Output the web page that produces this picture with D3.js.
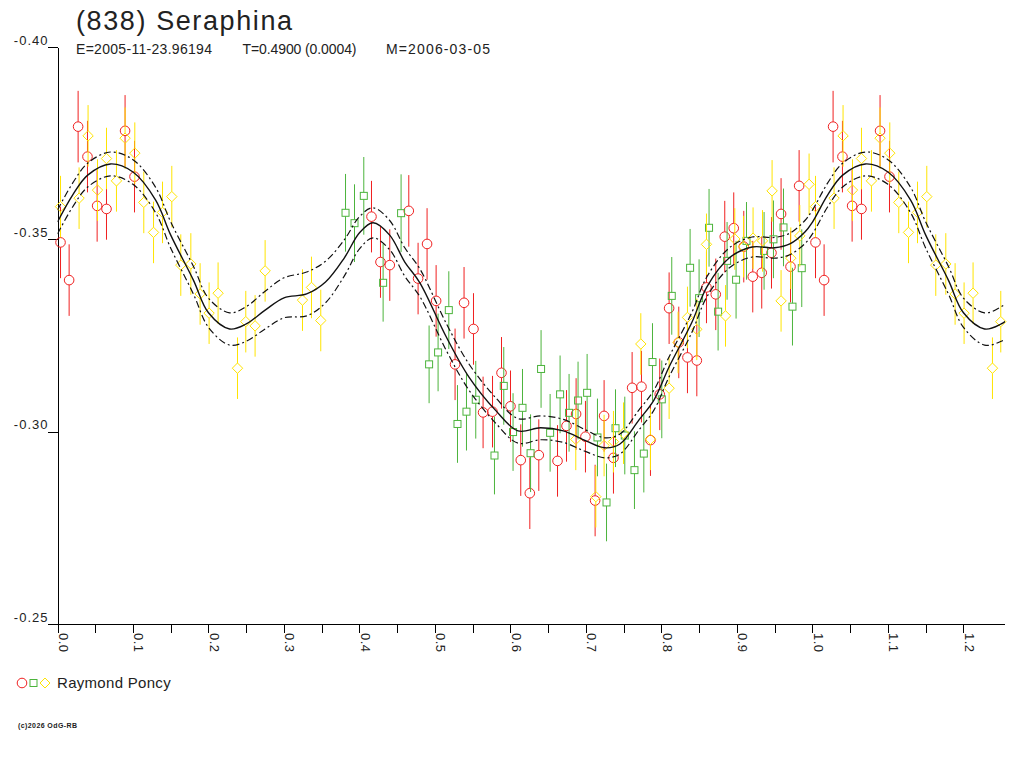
<!DOCTYPE html>
<html>
<head>
<meta charset="utf-8">
<title>(838) Seraphina</title>
<script src="https://d3js.org/d3.v7.min.js"></script>
<style>
  body { margin: 0; background: #fff; }
  text { font-family: "Liberation Sans", Arial, sans-serif; fill: #222; }
</style>
</head>
<body>
<script>
// observer series: [phase, magnitude, error]
var redObs = [
  [0.0040,-0.3492,0.0093],[0.0154,-0.3394,0.0093],[0.0273,-0.3793,0.0093],[0.0397,-0.3715,0.0093],
  [0.0525,-0.3587,0.0093],[0.0649,-0.3579,0.0080],[0.0895,-0.3782,0.0093],[0.1020,-0.3663,0.0093],
  [0.4159,-0.3559,0.0093],[0.4278,-0.3441,0.0093],[0.4401,-0.3433,0.0093],[0.4653,-0.3574,0.0093],
  [0.4776,-0.3398,0.0093],[0.4895,-0.3488,0.0093],[0.5015,-0.3340,0.0093],[0.5266,-0.3175,0.0093],
  [0.5385,-0.3335,0.0093],[0.5510,-0.3267,0.0093],[0.5637,-0.3050,0.0093],[0.5762,-0.3052,0.0093],
  [0.5881,-0.3153,0.0093],[0.6000,-0.3066,0.0093],[0.6136,-0.2926,0.0093],[0.6256,-0.2840,0.0093],
  [0.6375,-0.2939,0.0093],[0.6623,-0.2924,0.0093],[0.6742,-0.3015,0.0093],[0.6869,-0.3046,0.0093],
  [0.6993,-0.2987,0.0093],[0.7121,-0.2821,0.0093],[0.7240,-0.3041,0.0093],[0.7364,-0.2932,0.0093],
  [0.7611,-0.3114,0.0093],[0.7735,-0.3117,0.0093],[0.7854,-0.2978,0.0093],[0.7977,-0.3097,0.0093],
  [0.8101,-0.3321,0.0093],[0.8229,-0.3232,0.0093],[0.8344,-0.3193,0.0093],[0.8468,-0.3185,0.0093],
  [0.8596,-0.3375,0.0093],[0.8719,-0.3357,0.0093],[0.8838,-0.3507,0.0093],[0.8957,-0.3529,0.0093],
  [0.9090,-0.3481,0.0093],[0.9209,-0.3403,0.0093],[0.9328,-0.3413,0.0093],[0.9457,-0.3465,0.0093],
  [0.9584,-0.3566,0.0093],[0.9709,-0.3429,0.0093],[0.9823,-0.3639,0.0093]
];
var greenObs = [
  [0.3815,-0.3569,0.0101],[0.3934,-0.3542,0.0101],[0.4057,-0.3613,0.0101],[0.4313,-0.3387,0.0101],
  [0.4551,-0.3568,0.0101],[0.4922,-0.3175,0.0101],[0.5041,-0.3206,0.0101],[0.5183,-0.3316,0.0101],
  [0.5298,-0.3020,0.0101],[0.5417,-0.3052,0.0101],[0.5540,-0.3083,0.0101],[0.5788,-0.2938,0.0101],
  [0.5911,-0.3119,0.0101],[0.6034,-0.2999,0.0101],[0.6159,-0.3062,0.0101],[0.6266,-0.2944,0.0101],
  [0.6405,-0.3163,0.0101],[0.6525,-0.2997,0.0101],[0.6657,-0.3097,0.0101],[0.6776,-0.3049,0.0101],
  [0.6895,-0.3081,0.0101],[0.7015,-0.3101,0.0101],[0.7152,-0.2985,0.0101],[0.7272,-0.2816,0.0101],
  [0.7391,-0.3009,0.0101],[0.7514,-0.2990,0.0101],[0.7642,-0.2900,0.0101],[0.7766,-0.2943,0.0101],
  [0.7881,-0.3181,0.0101],[0.8004,-0.3084,0.0101],[0.8136,-0.3353,0.0101],[0.8379,-0.3426,0.0101],
  [0.8498,-0.3347,0.0101],[0.8630,-0.3530,0.0101],[0.8750,-0.3312,0.0101],[0.8869,-0.3444,0.0101],
  [0.8988,-0.3395,0.0101],[0.9126,-0.3496,0.0101],[0.9359,-0.3470,0.0101],[0.9483,-0.3500,0.0101],
  [0.9616,-0.3531,0.0101],[0.9735,-0.3325,0.0101],[0.9858,-0.3425,0.0101]
];
var yellowObs = [
  [0.0040,-0.3585,0.0080],[0.0286,-0.3607,0.0080],[0.0405,-0.3769,0.0080],[0.0530,-0.3628,0.0080],
  [0.0649,-0.3710,0.0080],[0.0781,-0.3652,0.0080],[0.0895,-0.3763,0.0080],[0.1024,-0.3724,0.0080],
  [0.1143,-0.3596,0.0080],[0.1272,-0.3518,0.0080],[0.1391,-0.3570,0.0080],[0.1514,-0.3611,0.0080],
  [0.1633,-0.3433,0.0080],[0.1766,-0.3436,0.0080],[0.1889,-0.3358,0.0080],[0.2008,-0.3308,0.0080],
  [0.2127,-0.3360,0.0080],[0.2384,-0.3165,0.0080],[0.2494,-0.3286,0.0080],[0.2617,-0.3275,0.0080],
  [0.2750,-0.3418,0.0080],[0.3245,-0.3342,0.0080],[0.3364,-0.3375,0.0080],[0.3487,-0.3289,0.0080],
  [0.6865,-0.2980,0.0080],[0.7130,-0.2831,0.0080],[0.7240,-0.2964,0.0080],[0.7364,-0.2974,0.0080],
  [0.7497,-0.2996,0.0080],[0.7726,-0.3228,0.0080],[0.7854,-0.2980,0.0080],[0.8101,-0.3113,0.0080],
  [0.8220,-0.3232,0.0080],[0.8344,-0.3297,0.0080],[0.8468,-0.3266,0.0080],[0.8596,-0.3487,0.0080],
  [0.8848,-0.3301,0.0080],[0.8971,-0.3501,0.0080],[0.9086,-0.3481,0.0080],[0.9213,-0.3503,0.0080],
  [0.9338,-0.3496,0.0080],[0.9465,-0.3626,0.0080],[0.9584,-0.3340,0.0080],[0.9713,-0.3451,0.0080],
  [0.9832,-0.3509,0.0080],[0.9955,-0.3643,0.0080]
];

// fitted light curve: phase, magnitude, 1-sigma half width
var fitPhase = [0.000,0.020,0.040,0.070,0.100,0.130,0.150,0.180,0.200,0.228,0.250,0.275,0.300,0.330,
                0.355,0.380,0.400,0.418,0.440,0.460,0.480,0.515,0.545,0.580,0.610,0.640,0.670,0.700,
                0.725,0.745,0.770,0.790,0.810,0.840,0.860,0.890,0.920,0.950,0.970,0.990,1.000];
var fitMag   = [-0.3545,-0.3615,-0.3667,-0.3696,-0.3675,-0.3602,-0.3511,-0.3394,-0.3309,-0.3267,-0.3280,
                -0.3316,-0.3348,-0.3358,-0.3389,-0.3452,-0.3517,-0.3543,-0.3511,-0.3441,-0.3387,-0.3246,
                -0.3142,-0.3056,-0.3002,-0.3010,-0.3002,-0.2976,-0.2958,-0.2968,-0.3030,-0.3082,-0.3168,
                -0.3283,-0.3376,-0.3452,-0.3480,-0.3478,-0.3488,-0.3519,-0.3545];
var fitSig   = [0.0031,0.0031,0.0031,0.0031,0.0032,0.0033,0.0034,0.0036,0.0038,0.0042,0.0045,0.0049,0.0052,
                0.0057,0.0054,0.0047,0.0042,0.0039,0.0038,0.0037,0.0036,0.0035,0.0034,0.0033,0.0032,0.0031,
                0.0030,0.0028,0.0026,0.0026,0.0026,0.0026,0.0026,0.0026,0.0026,0.0026,0.0026,0.0027,0.0028,
                0.0030,0.0031];

var yTicks = [-0.40, -0.35, -0.30, -0.25];
var title = "(838) Seraphina";
var infoParts = ["E=2005-11-23.96194", "T=0.4900 (0.0004)", "M=2006-03-05"];
var observer = "Raymond Poncy";
var maxPhase = 1.255;

var size = {width: 1024, height: 768};
var plot = {left: 57.5, right: 1005, top: 47, bottom: 624};
var colors = {red: "#f02020", green: "#4cb43c", yellow: "#ffe400"};

var svg = d3.select("body").append("svg")
    .attr("width", size.width)
    .attr("height", size.height);

var x = d3.scaleLinear().domain([0, maxPhase]).range([plot.left, plot.right]);
var y = d3.scaleLinear().domain([-0.40, -0.25]).range([plot.top, plot.bottom]);

// repeat the observations past phase 1
function wrap(data){
    var out = data.slice();
    data.forEach(function(d){
        if(d[0] + 1 <= maxPhase) out.push([d[0] + 1, d[1], d[2]]);
    });
    return out;
}

// title block
svg.append("text").attr("x", 76).attr("y", 30)
    .attr("font-size", 27).attr("letter-spacing", 1.6).text(title);
var infoX = [76, 242.5, 386];
var infoW = [136, 114, 104];
infoParts.forEach(function(t, i){
    svg.append("text").attr("x", infoX[i]).attr("y", 54)
        .attr("font-size", 14).attr("textLength", infoW[i]).attr("lengthAdjust", "spacing").text(t);
});

// axes
var yAxis = d3.axisLeft(y).tickValues(yTicks).tickSize(10).tickSizeOuter(0)
    .tickFormat(function(d){ return d.toFixed(2); });
var gy = svg.append("g").attr("transform", "translate(" + plot.left + ",0)").call(yAxis);
gy.selectAll("text").attr("x", -9).attr("dy", "-3").attr("font-size", 13)
    .attr("letter-spacing", 1).attr("fill", "#222");

var xAxis = d3.axisBottom(x).tickValues(d3.range(0, 25).map(function(i){ return i * 0.05; }))
    .tickSize(9).tickSizeOuter(0)
    .tickFormat(function(d){ return Math.round(d * 100) % 10 === 0 ? d.toFixed(1) : ""; });
var gx = svg.append("g").attr("transform", "translate(0," + plot.bottom + ")").call(xAxis);
gx.selectAll("text").attr("transform", "rotate(90)").attr("x", 9).attr("y", -1)
    .attr("dy", 0).attr("text-anchor", "start").attr("font-size", 13).attr("letter-spacing", 0.5)
    .attr("fill", "#222");
gx.select(".domain").attr("d", "M" + (plot.left - 10) + ",0H" + plot.right);

svg.selectAll(".domain, .tick line").attr("stroke", "#000").attr("shape-rendering", "crispEdges");

// markers
function circleMark(g, r){ g.append("circle").attr("r", r); }
function squareMark(g, r){ g.append("rect").attr("x", -r).attr("y", -r).attr("width", 2 * r).attr("height", 2 * r); }
function diamondMark(g, r){ g.append("path").attr("d", "M0," + (-r) + "L" + r + ",0L0," + r + "L" + (-r) + ",0Z"); }

function drawSeries(data, color, mark, r){
    var g = svg.append("g").attr("stroke", color).attr("fill", "none").attr("stroke-width", 1);
    var pts = g.selectAll("g").data(wrap(data)).enter().append("g")
        .attr("transform", function(d){ return "translate(" + x(d[0]) + "," + y(d[1]) + ")"; });
    pts.append("line").attr("x1", 0).attr("x2", 0).attr("y1", function(d){ return y(d[1] - d[2]) - y(d[1]); })
        .attr("y2", -r);
    pts.append("line").attr("x1", 0).attr("x2", 0).attr("y1", r)
        .attr("y2", function(d){ return y(d[1] + d[2]) - y(d[1]); });
    pts.each(function(){ mark(d3.select(this), r); });
}
drawSeries(redObs, colors.red, circleMark, 4.8);
drawSeries(greenObs, colors.green, squareMark, 3.5);
drawSeries(yellowObs, colors.yellow, diamondMark, 5.2);

// fitted curve and its envelope, repeated after phase 1
var fit = fitPhase.map(function(p, i){ return [p, fitMag[i], fitSig[i]]; });
var fitAll = fit.concat(fit.slice(1).map(function(d){ return [d[0] + 1, d[1], d[2]]; }));

var line = function(off){
    return d3.line().curve(d3.curveCatmullRom.alpha(0.5))
        .x(function(d){ return x(d[0]); })
        .y(function(d){ return y(d[1] + off * d[2]); });
};
svg.append("clipPath").attr("id", "plotclip").append("rect")
    .attr("x", plot.left).attr("y", plot.top).attr("width", plot.right - plot.left).attr("height", plot.bottom - plot.top);
var gc = svg.append("g").attr("clip-path", "url(#plotclip)").attr("fill", "none").attr("stroke", "#111");
gc.append("path").datum(fitAll).attr("d", line(0)).attr("stroke-width", 1.4);
gc.append("path").datum(fitAll).attr("d", line(-1)).attr("stroke-width", 1.2).attr("stroke-dasharray", "7,3,2,3");
gc.append("path").datum(fitAll).attr("d", line(1)).attr("stroke-width", 1.2).attr("stroke-dasharray", "7,3,2,3");

// legend
var lg = svg.append("g").attr("fill", "none").attr("stroke-width", 1);
lg.append("circle").attr("cx", 22).attr("cy", 683).attr("r", 4.8).attr("stroke", colors.red);
lg.append("rect").attr("x", 30).attr("y", 679.5).attr("width", 7).attr("height", 7).attr("stroke", colors.green);
lg.append("path").attr("d", "M45,678L50,683L45,688L40,683Z").attr("stroke", colors.yellow);
svg.append("text").attr("x", 57).attr("y", 688).attr("font-size", 15).attr("letter-spacing", 0.3).text(observer);

svg.append("text").attr("x", 18).attr("y", 728).attr("font-size", 7).attr("font-weight", "bold")
    .attr("textLength", 59).attr("lengthAdjust", "spacing").text("(c)2026 OdG-RB");
</script>
</body>
</html>
